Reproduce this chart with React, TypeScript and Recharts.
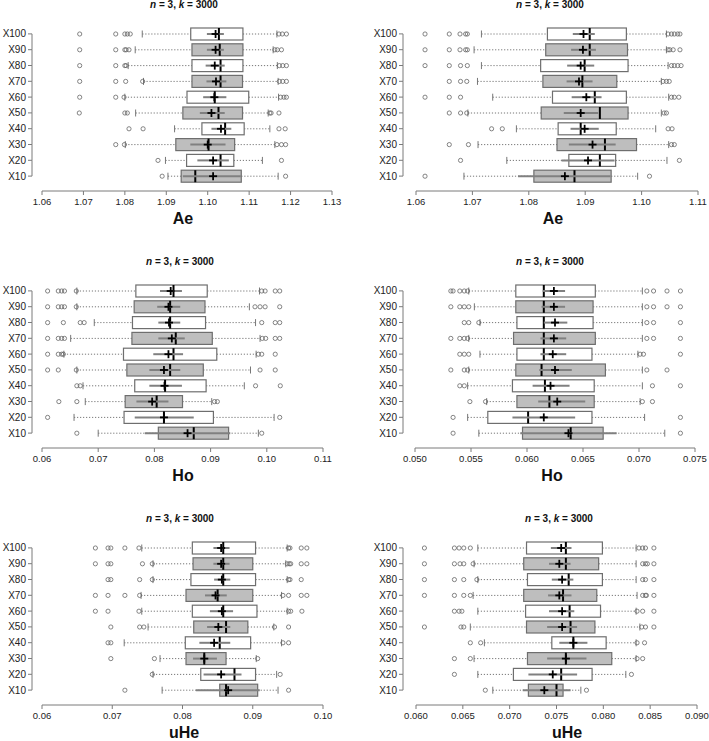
import { BarChart, Bar, XAxis, YAxis } from "recharts";

const CATEGORIES = ["X100", "X90", "X80", "X70", "X60", "X50", "X40", "X30", "X20", "X10"];

// box rows: [whisker low, Q1, median, Q3, whisker high]
// mean rows: [mean, interval low, interval high]

// Ae, left
const AE1_BOX = [
  [1.0842, 1.0959, 1.1027, 1.1085, 1.1167],
  [1.0825, 1.0962, 1.1029, 1.1085, 1.1158],
  [1.0808, 1.0962, 1.1031, 1.1085, 1.1168],
  [1.0845, 1.0962, 1.1031, 1.1084, 1.117],
  [1.08, 1.095, 1.1017, 1.1099, 1.1171],
  [1.0826, 1.094, 1.1026, 1.1084, 1.1146],
  [1.092, 1.0986, 1.1042, 1.1088, 1.115],
  [1.0801, 1.0923, 1.1002, 1.1065, 1.1162],
  [1.0898, 1.0949, 1.1031, 1.1063, 1.1132],
  [1.0904, 1.0936, 1.097, 1.1081, 1.117],
];
const AE1_MEAN = [
  [1.1019, 1.0998, 1.1039],
  [1.1019, 1.0998, 1.1039],
  [1.1017, 1.0995, 1.1041],
  [1.102, 1.0997, 1.1045],
  [1.1016, 1.0989, 1.1045],
  [1.1009, 1.0981, 1.1041],
  [1.1032, 1.1009, 1.1057],
  [1.1, 1.0958, 1.1043],
  [1.1013, 1.0975, 1.1051],
  [1.1013, 1.094, 1.108],
];
const AE1_OUT = [
  [1.0691, 1.0778, 1.08, 1.0806, 1.0813, 1.1172, 1.118, 1.119],
  [1.0691, 1.0778, 1.08, 1.0803, 1.081, 1.1162, 1.1168, 1.1178],
  [1.0691, 1.0778, 1.08, 1.0803, 1.1173, 1.1181, 1.119],
  [1.0691, 1.0778, 1.0802, 1.0843, 1.1173, 1.1181, 1.119],
  [1.0691, 1.0778, 1.0798, 1.1176, 1.1184, 1.119],
  [1.069, 1.08, 1.0806, 1.115, 1.1153, 1.1172],
  [1.081, 1.0844, 1.1172, 1.1187],
  [1.0778, 1.0799, 1.1167, 1.1178, 1.1188],
  [1.088, 1.1178],
  [1.089, 1.1188],
];

// Ae, right
const AE2_BOX = [
  [1.0716, 1.0833, 1.0908, 1.0973, 1.1044],
  [1.0703, 1.083, 1.0908, 1.0975, 1.1044],
  [1.0716, 1.0821, 1.0899, 1.0976, 1.1047],
  [1.0709, 1.0825, 1.0895, 1.0956, 1.1035],
  [1.0736, 1.0842, 1.0917, 1.0973, 1.1048],
  [1.0692, 1.0822, 1.0926, 1.0976, 1.1035],
  [1.0778, 1.0852, 1.0892, 1.0955, 1.1025],
  [1.071, 1.085, 1.0935, 1.0991, 1.1048],
  [1.0761, 1.0871, 1.0926, 1.0954, 1.1045],
  [1.0685, 1.0809, 1.0881, 1.0946, 1.0993],
];
const AE2_MEAN = [
  [1.0897, 1.0878, 1.0917],
  [1.0896, 1.0875, 1.0919],
  [1.0892, 1.0868, 1.0916],
  [1.0889, 1.0867, 1.0913],
  [1.0902, 1.0876, 1.0929],
  [1.0892, 1.0862, 1.0923],
  [1.0899, 1.0874, 1.0924],
  [1.0913, 1.0871, 1.0954],
  [1.0905, 1.0858, 1.0952],
  [1.0864, 1.0781, 1.0945],
];
const AE2_OUT = [
  [1.0616, 1.0659, 1.0678, 1.0688, 1.0691, 1.1047, 1.1053, 1.1058, 1.1064, 1.1068],
  [1.0616, 1.0659, 1.0678, 1.0688, 1.0691, 1.1047, 1.105, 1.1056, 1.1068],
  [1.0616, 1.0659, 1.0679, 1.0691, 1.1053, 1.1058, 1.1064, 1.107],
  [1.0659, 1.0679, 1.069, 1.1038, 1.1044, 1.1049],
  [1.0616, 1.0659, 1.0679, 1.1053, 1.1058, 1.1066],
  [1.0659, 1.0679, 1.069, 1.104, 1.1044],
  [1.0734, 1.0753, 1.1047, 1.1054],
  [1.0659, 1.0693, 1.1053, 1.1058],
  [1.0679, 1.1067],
  [1.0616, 1.1014],
];

// Ho, left
const HO1_BOX = [
  [0.0662, 0.0767, 0.0834, 0.0894, 0.0987],
  [0.0662, 0.0764, 0.0828, 0.089, 0.0969],
  [0.0693, 0.0761, 0.0828, 0.0891, 0.098],
  [0.0651, 0.076, 0.0838, 0.0903, 0.0988],
  [0.0639, 0.0745, 0.0834, 0.0911, 0.0981],
  [0.0662, 0.0751, 0.0828, 0.0887, 0.0971],
  [0.0673, 0.0765, 0.0819, 0.0892, 0.096],
  [0.0677, 0.0748, 0.0804, 0.085, 0.0902],
  [0.0657, 0.0746, 0.0817, 0.0905, 0.1013],
  [0.07, 0.0807, 0.087, 0.0932, 0.0985],
];
const HO1_MEAN = [
  [0.0829, 0.081, 0.0849],
  [0.0825, 0.0805, 0.0846],
  [0.0826, 0.0807, 0.0846],
  [0.0831, 0.0807, 0.0854],
  [0.0825, 0.0798, 0.0851],
  [0.0817, 0.0791, 0.0846],
  [0.0818, 0.0791, 0.0849],
  [0.0796, 0.0768, 0.0825],
  [0.0817, 0.0765, 0.087],
  [0.0859, 0.0783, 0.0935],
];
const HO1_OUT = [
  [0.061, 0.0629, 0.0635, 0.064, 0.0661, 0.0991, 0.0997, 0.1015, 0.1023],
  [0.061, 0.0629, 0.0635, 0.064, 0.0661, 0.0979, 0.0988, 0.0997, 0.1023],
  [0.061, 0.0638, 0.0668, 0.0675, 0.0991, 0.1015, 0.1023],
  [0.061, 0.0629, 0.0635, 0.064, 0.0992, 0.0998, 0.1015, 0.1023],
  [0.061, 0.0629, 0.0635, 0.0638, 0.0985, 0.0991, 0.1015],
  [0.061, 0.0629, 0.0661, 0.0988, 0.1015],
  [0.0662, 0.0668, 0.098, 0.1024],
  [0.063, 0.0662, 0.0907, 0.0912],
  [0.061, 0.1023],
  [0.0662, 0.0991],
];

// Ho, right
const HO2_BOX = [
  [0.0548, 0.059, 0.0615, 0.0661, 0.0703],
  [0.0553, 0.059, 0.0615, 0.0659, 0.0703],
  [0.0558, 0.0591, 0.0615, 0.0659, 0.0703],
  [0.0548, 0.0588, 0.0615, 0.0661, 0.0703],
  [0.0558, 0.0591, 0.0615, 0.0658, 0.0699],
  [0.0548, 0.059, 0.0613, 0.067, 0.0703],
  [0.0547, 0.0587, 0.0616, 0.066, 0.0703],
  [0.0564, 0.0591, 0.062, 0.066, 0.0701],
  [0.0547, 0.0565, 0.0601, 0.0658, 0.0705],
  [0.0557, 0.0596, 0.0639, 0.0668, 0.0723],
];
const HO2_MEAN = [
  [0.0624, 0.0614, 0.0634],
  [0.0624, 0.0613, 0.0634],
  [0.0625, 0.0615, 0.0636],
  [0.0624, 0.0612, 0.0635],
  [0.0623, 0.0612, 0.0635],
  [0.0625, 0.0611, 0.064],
  [0.0621, 0.0605, 0.0638],
  [0.0627, 0.061, 0.0652],
  [0.0615, 0.0587, 0.0643],
  [0.0637, 0.0594, 0.068],
];
const HO2_OUT = [
  [0.0532, 0.0534, 0.054, 0.0544, 0.0547, 0.0707, 0.0713, 0.0725, 0.0737],
  [0.0532, 0.054, 0.0544, 0.0548, 0.0707, 0.0713, 0.0725, 0.0737],
  [0.0544, 0.0548, 0.0557, 0.0707, 0.0713, 0.0737],
  [0.0532, 0.054, 0.0544, 0.0547, 0.0707, 0.0713, 0.0737],
  [0.054, 0.0544, 0.0548, 0.0701, 0.0704, 0.0737],
  [0.0532, 0.0544, 0.0547, 0.0707, 0.0725],
  [0.054, 0.0544, 0.0712, 0.0737],
  [0.0549, 0.0563, 0.0703, 0.0712],
  [0.0534, 0.0737],
  [0.0534, 0.0737],
];

// uHe, left
const UHE1_BOX = [
  [0.0742, 0.0814, 0.0858, 0.0904, 0.0949],
  [0.0758, 0.0815, 0.0858, 0.09, 0.0947],
  [0.0758, 0.0812, 0.0858, 0.0904, 0.0949],
  [0.0741, 0.0805, 0.085, 0.09, 0.0941],
  [0.0742, 0.0814, 0.0858, 0.0906, 0.0949],
  [0.0751, 0.0816, 0.0862, 0.0893, 0.093],
  [0.0717, 0.0804, 0.0853, 0.0897, 0.0941],
  [0.0768, 0.0805, 0.0831, 0.0862, 0.0905],
  [0.0758, 0.0826, 0.0874, 0.0904, 0.0934],
  [0.0771, 0.0853, 0.0862, 0.0907, 0.0936],
];
const UHE1_MEAN = [
  [0.0855, 0.0844, 0.0867],
  [0.0855, 0.0844, 0.0867],
  [0.0856, 0.0845, 0.0868],
  [0.0847, 0.0832, 0.0863],
  [0.0856, 0.0839, 0.0872],
  [0.0851, 0.0835, 0.0868],
  [0.0845, 0.0824, 0.0868],
  [0.0831, 0.0815, 0.0849],
  [0.0855, 0.083, 0.0884],
  [0.0865, 0.0819, 0.091],
];
const UHE1_OUT = [
  [0.0676, 0.0694, 0.0698, 0.0718, 0.0738, 0.0951, 0.0953, 0.0969, 0.0977],
  [0.0676, 0.0694, 0.0698, 0.0743, 0.0757, 0.0949, 0.0952, 0.0954, 0.0969, 0.0977],
  [0.0694, 0.0698, 0.0739, 0.0757, 0.0951, 0.0953, 0.0969],
  [0.0676, 0.0694, 0.0718, 0.0739, 0.0943, 0.0951, 0.0969, 0.0977],
  [0.0676, 0.0694, 0.0738, 0.0951, 0.0954, 0.097],
  [0.0698, 0.0739, 0.0745, 0.0931, 0.0951],
  [0.0694, 0.0698, 0.0943, 0.0951],
  [0.0698, 0.076, 0.0907],
  [0.0757, 0.0939],
  [0.0718, 0.0951],
];

// uHe, right
const UHE2_BOX = [
  [0.0666, 0.0718, 0.076, 0.0799, 0.0835],
  [0.0662, 0.0715, 0.076, 0.0795, 0.0835],
  [0.0666, 0.0719, 0.0763, 0.0799, 0.0835],
  [0.0661, 0.0715, 0.0757, 0.0793, 0.0836],
  [0.0666, 0.0717, 0.0764, 0.0797, 0.0835],
  [0.0658, 0.0718, 0.0765, 0.0791, 0.0839],
  [0.0673, 0.0745, 0.0768, 0.0803, 0.0835],
  [0.0662, 0.0719, 0.076, 0.0809, 0.0835],
  [0.0666, 0.0704, 0.0755, 0.0788, 0.0824],
  [0.0682, 0.072, 0.075, 0.0757, 0.0776],
];
const UHE2_MEAN = [
  [0.0755, 0.0744, 0.0766],
  [0.0753, 0.0742, 0.0765],
  [0.0756, 0.0745, 0.0768],
  [0.0753, 0.0741, 0.0766],
  [0.0756, 0.0742, 0.0769],
  [0.0756, 0.074, 0.0772],
  [0.0768, 0.0753, 0.0783],
  [0.076, 0.074, 0.0782],
  [0.0746, 0.072, 0.0772],
  [0.0737, 0.0714, 0.0765],
];
const UHE2_OUT = [
  [0.0609, 0.0641, 0.0646, 0.0651, 0.0658, 0.0838, 0.0842, 0.0845, 0.0854],
  [0.0609, 0.0641, 0.0647, 0.0651, 0.0661, 0.0842, 0.0845, 0.0847, 0.0854],
  [0.0609, 0.0641, 0.0651, 0.0665, 0.0842, 0.0845, 0.0854],
  [0.0609, 0.0641, 0.0651, 0.0658, 0.0842, 0.0845, 0.0846, 0.0854],
  [0.0641, 0.0646, 0.0649, 0.0836, 0.0842, 0.0854],
  [0.0609, 0.0648, 0.0651, 0.0841, 0.0845, 0.0854],
  [0.0658, 0.0669, 0.0836, 0.0844],
  [0.0641, 0.0658, 0.0836, 0.0842],
  [0.0641, 0.083],
  [0.0674, 0.0782],
];

const AE1_TICKS = [1.06, 1.07, 1.08, 1.09, 1.1, 1.11, 1.12, 1.13];
const AE2_TICKS = [1.06, 1.07, 1.08, 1.09, 1.1, 1.11];
const HO1_TICKS = [0.06, 0.07, 0.08, 0.09, 0.1, 0.11];
const HO2_TICKS = [0.05, 0.055, 0.06, 0.065, 0.07, 0.075];
const UHE1_TICKS = [0.06, 0.07, 0.08, 0.09, 0.1];
const UHE2_TICKS = [0.06, 0.065, 0.07, 0.075, 0.08, 0.085, 0.09];

const FONT = "'Liberation Sans', Arial, Helvetica, sans-serif";
const PANEL_H = 257;
const TOP = 26;
const AXIS_Y = 191;
const PAD_BOTTOM = 7;
const BAND = (AXIS_Y - TOP - PAD_BOTTOM) / CATEGORIES.length;
const AXIS_COLOR = "#7a7a7a";
const BOX_GRAY = "#bebebe";

const PANELS = [
  { id: "ae1", col: 0, row: 0, box: AE1_BOX, mean: AE1_MEAN, out: AE1_OUT, ticks: AE1_TICKS, dec: 2, label: "Ae", firstX: 42, lastX: 332, titleX: 184, labelX: 183 },
  { id: "ae2", col: 1, row: 0, box: AE2_BOX, mean: AE2_MEAN, out: AE2_OUT, ticks: AE2_TICKS, dec: 2, label: "Ae", firstX: 62, lastX: 344, titleX: 196, labelX: 199 },
  { id: "ho1", col: 0, row: 1, box: HO1_BOX, mean: HO1_MEAN, out: HO1_OUT, ticks: HO1_TICKS, dec: 2, label: "Ho", firstX: 42, lastX: 323, titleX: 180, labelX: 183 },
  { id: "ho2", col: 1, row: 1, box: HO2_BOX, mean: HO2_MEAN, out: HO2_OUT, ticks: HO2_TICKS, dec: 3, label: "Ho", firstX: 61, lastX: 341, titleX: 196, labelX: 198 },
  { id: "uhe1", col: 0, row: 2, box: UHE1_BOX, mean: UHE1_MEAN, out: UHE1_OUT, ticks: UHE1_TICKS, dec: 2, label: "uHe", firstX: 42, lastX: 323, titleX: 180, labelX: 184 },
  { id: "uhe2", col: 1, row: 2, box: UHE2_BOX, mean: UHE2_MEAN, out: UHE2_OUT, ticks: UHE2_TICKS, dec: 3, label: "uHe", firstX: 62, lastX: 343, titleX: 205, labelX: 213 },
];

// draws one whole boxplot row, positions taken from the bar's own scale
const BoxShape = (props: any) => {
  const { x, y, width, height, payload } = props;
  const [lo, q1, med, q3, hi] = payload.box;
  const [mu, ciLo, ciHi] = payload.mean;
  const k = width / (q3 - q1);
  const px = (v: number) => x + (v - q1) * k;
  const cy = y + height / 2;
  const cap = 3.5;
  const arm = 4;
  return (
    <g>
      <line x1={px(lo)} x2={x} y1={cy} y2={cy} stroke="#777" strokeWidth={1} strokeDasharray="1.2 1.8" />
      <line x1={x + width} x2={px(hi)} y1={cy} y2={cy} stroke="#777" strokeWidth={1} strokeDasharray="1.2 1.8" />
      <line x1={px(lo)} x2={px(lo)} y1={cy - cap} y2={cy + cap} stroke="#777" strokeWidth={1} />
      <line x1={px(hi)} x2={px(hi)} y1={cy - cap} y2={cy + cap} stroke="#777" strokeWidth={1} />
      {payload.out.map((v: number, j: number) => (
        <circle key={j} cx={px(v)} cy={cy} r={2.1} fill="none" stroke="#666" strokeWidth={0.8} />
      ))}
      <rect x={x} y={y} width={width} height={height} fill={payload.shade ? BOX_GRAY : "#fff"} stroke="#6e6e6e" strokeWidth={1.2} />
      <line x1={px(med)} x2={px(med)} y1={y} y2={y + height} stroke="#000" strokeWidth={2} />
      <line x1={px(ciLo)} x2={px(ciHi)} y1={cy} y2={cy} stroke="#808080" strokeWidth={2} />
      <line x1={px(mu) - arm} x2={px(mu) + arm} y1={cy} y2={cy} stroke="#000" strokeWidth={1.8} />
      <line x1={px(mu)} x2={px(mu)} y1={cy - arm} y2={cy + arm} stroke="#000" strokeWidth={1.8} />
    </g>
  );
};

const XTick = (props: any) => {
  const { x, y, payload, index, visibleTicksCount, step, dec } = props;
  return (
    <g>
      {index < visibleTicksCount - 1 && <line x1={x} x2={x + step} y1={y} y2={y} stroke={AXIS_COLOR} strokeWidth={1} />}
      <line x1={x} x2={x} y1={y} y2={y + 4} stroke={AXIS_COLOR} strokeWidth={1} />
      <text x={x} y={y + 14} textAnchor="middle" fill="#222" style={{ fontFamily: FONT, fontSize: 9.5 }}>
        {Number(payload.value).toFixed(dec)}
      </text>
    </g>
  );
};

const YTick = (props: any) => {
  const { x, y, payload, index, visibleTicksCount } = props;
  return (
    <g>
      {index < visibleTicksCount - 1 && <line x1={x} x2={x} y1={y} y2={y + BAND} stroke={AXIS_COLOR} strokeWidth={1} />}
      <line x1={x - 4} x2={x} y1={y} y2={y} stroke={AXIS_COLOR} strokeWidth={1} />
      <text x={x - 6} y={y} dy="0.35em" textAnchor="end" fill="#222" style={{ fontFamily: FONT, fontSize: 10 }}>
        {payload.value}
      </text>
    </g>
  );
};

function Panel({ spec }: { spec: (typeof PANELS)[number] }) {
  const width = spec.col === 0 ? 354 : 355;
  const yAxisX = spec.col === 0 ? 32 : 49;
  const padR = 8;
  const step = (spec.lastX - spec.firstX) / (spec.ticks.length - 1);
  const rows = CATEGORIES.map((name, i) => ({
    name,
    range: [spec.box[i][1], spec.box[i][3]],
    box: spec.box[i],
    mean: spec.mean[i],
    out: spec.out[i],
    shade: i % 2 === 1,
  }));
  return (
    <div style={{ position: "absolute", left: spec.col * 354, top: spec.row * PANEL_H, width, height: PANEL_H }}>
      <BarChart
        width={width}
        height={PANEL_H}
        data={rows}
        layout="vertical"
        margin={{ top: TOP, right: width - spec.lastX - padR, bottom: 0, left: 0 }}
      >
        <XAxis
          type="number"
          domain={[spec.ticks[0], spec.ticks[spec.ticks.length - 1]]}
          ticks={spec.ticks}
          interval={0}
          padding={{ left: spec.firstX - yAxisX, right: padR }}
          height={PANEL_H - AXIS_Y}
          axisLine={false}
          tickLine={false}
          tickSize={0}
          tickMargin={0}
          tick={(p: any) => <XTick {...p} step={step} dec={spec.dec} />}
        />
        <YAxis
          type="category"
          dataKey="name"
          width={yAxisX}
          interval={0}
          padding={{ top: 0, bottom: PAD_BOTTOM }}
          axisLine={false}
          tickLine={false}
          tickSize={0}
          tickMargin={0}
          tick={(p: any) => <YTick {...p} />}
        />
        <Bar dataKey="range" barSize={12} shape={(p: any) => <BoxShape {...p} />} isAnimationActive={false} />
      </BarChart>
      <div
        style={{
          position: "absolute",
          top: 0,
          left: spec.titleX,
          transform: "translateX(-50%)",
          fontFamily: FONT,
          fontSize: 10,
          lineHeight: "10px",
          fontWeight: "bold",
          whiteSpace: "nowrap",
          color: "#111",
        }}
      >
        <i>n</i> = 3, <i>k</i> = 3000
      </div>
      <div
        style={{
          position: "absolute",
          top: 211,
          left: spec.labelX,
          transform: "translateX(-50%)",
          fontFamily: FONT,
          fontSize: 16,
          lineHeight: "16px",
          fontWeight: "bold",
          whiteSpace: "nowrap",
          color: "#111",
        }}
      >
        {spec.label}
      </div>
    </div>
  );
}

export default function App() {
  return (
    <div style={{ position: "relative", width: 709, height: 741, overflow: "hidden", background: "#fff" }}>
      <style>{"body{margin:0}"}</style>
      {PANELS.map((p) => (
        <Panel key={p.id} spec={p} />
      ))}
    </div>
  );
}
